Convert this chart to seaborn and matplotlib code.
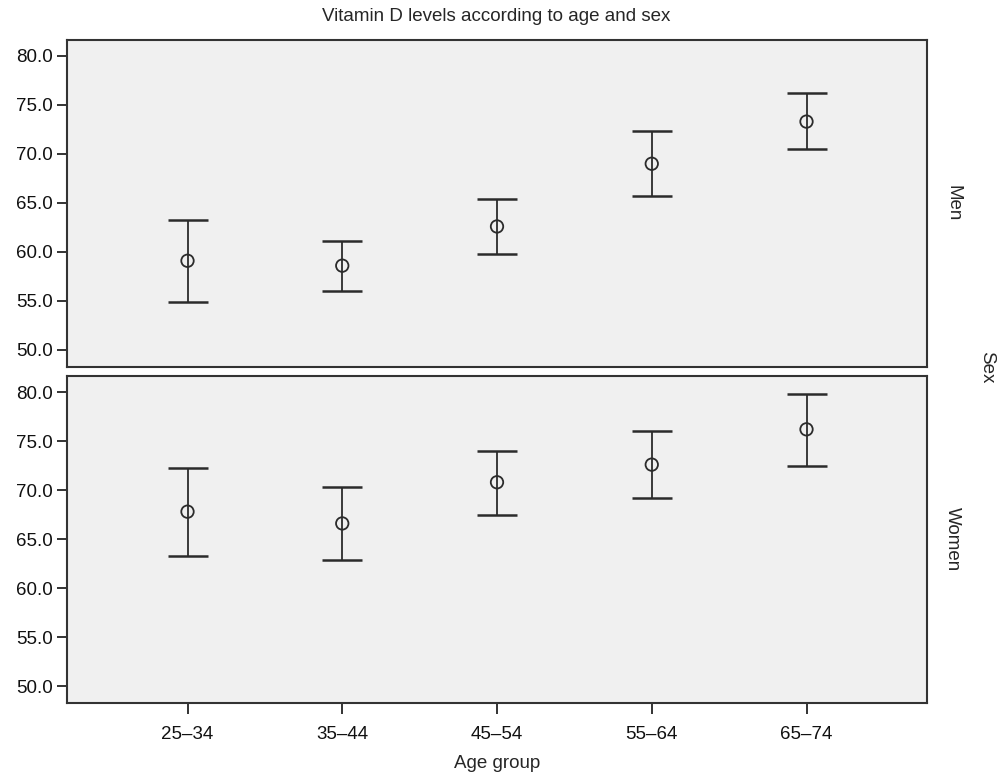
import pandas as pd
import matplotlib.pyplot as plt
import seaborn as sns

# ---------------- DATA ----------------
age_groups = ["25–34", "35–44", "45–54", "55–64", "65–74"]
sexes = ["Men", "Women"]

men_mean = [59.1, 58.6, 62.6, 69.0, 73.3]
men_low = [54.9, 56.0, 59.8, 65.7, 70.5]
men_high = [63.3, 61.1, 65.4, 72.3, 76.2]

women_mean = [67.8, 66.6, 70.8, 72.6, 76.2]
women_low = [63.3, 62.9, 67.5, 69.2, 72.5]
women_high = [72.3, 70.3, 74.0, 76.0, 79.8]

data = pd.DataFrame({
    "Age group": age_groups * 2,
    "Sex": ["Men"] * 5 + ["Women"] * 5,
    "mean": men_mean + women_mean,
    "low": men_low + women_low,
    "high": men_high + women_high,
})

# ---------------- STYLE ----------------
sns.set_theme(style="ticks")
plt.rcParams["font.family"] = ["Liberation Sans", "DejaVu Sans"]
plt.rcParams["axes.facecolor"] = "#f0f0f0"
plt.rcParams["axes.edgecolor"] = "#333333"
plt.rcParams["axes.linewidth"] = 1.5
plt.rcParams["xtick.major.size"] = 8
plt.rcParams["ytick.major.size"] = 7
plt.rcParams["xtick.major.width"] = 1.4
plt.rcParams["ytick.major.width"] = 1.4
plt.rcParams["xtick.major.pad"] = 9
plt.rcParams["ytick.major.pad"] = 3
plt.rcParams["xtick.color"] = "#333333"
plt.rcParams["ytick.color"] = "#333333"
plt.rcParams["xtick.labelcolor"] = "#111111"
plt.rcParams["ytick.labelcolor"] = "#111111"
plt.rcParams["font.size"] = 13.5
plt.rcParams["xtick.labelsize"] = 13.5
plt.rcParams["ytick.labelsize"] = 13.5
plt.rcParams["axes.labelsize"] = 13.5


def draw_ci(data, **kws):
    ax = plt.gca()
    x = [age_groups.index(a) for a in data["Age group"]]
    y = data["mean"].values
    err = [y - data["low"].values, data["high"].values - y]
    _, caps, _ = ax.errorbar(x, y, yerr=err, fmt="none", ecolor="#2b2b2b",
                             elinewidth=1.3, capsize=14.5, capthick=1.8)
    for c in caps:
        c.set_color("#555555")
    sns.scatterplot(x=x, y=y, ax=ax, marker="o", s=80,
                    facecolor="none", edgecolor="#2b2b2b", linewidth=1.3)


# ---------------- PLOT ----------------
g = sns.FacetGrid(data, row="Sex", row_order=sexes, sharex=True, sharey=True,
                  margin_titles=True, height=3.5, aspect=2.5)
g.map_dataframe(draw_ci)

g.figure.set_size_inches(9.97, 7.74)
g.figure.subplots_adjust(left=0.067, right=0.93, top=0.948, bottom=0.092, hspace=0.03)

g.set_titles(row_template="{row_name}", col_template="", size=13.5)
g.set(xlim=(-0.78, 4.78), ylim=(48.3, 81.6),
      yticks=[50, 55, 60, 65, 70, 75, 80],
      xticks=range(len(age_groups)))
g.set_xticklabels(age_groups)
g.set_axis_labels("Age group", "")

for ax in g.axes.flat:
    ax.set_yticklabels([f"{v:.1f}" for v in ax.get_yticks()])
    for sp in ax.spines.values():
        sp.set_visible(True)
g.axes[0, 0].tick_params(axis="x", bottom=False)
g.axes[-1, 0].xaxis.labelpad = 8

g.figure.text(0.99, 0.525, "Sex", rotation=270, ha="center", va="center", fontsize=13.5)
g.figure.suptitle("Vitamin D levels according to age and sex", x=0.498, y=0.99,
                  fontsize=13.5)

g.figure.savefig("out.png", dpi=100)
